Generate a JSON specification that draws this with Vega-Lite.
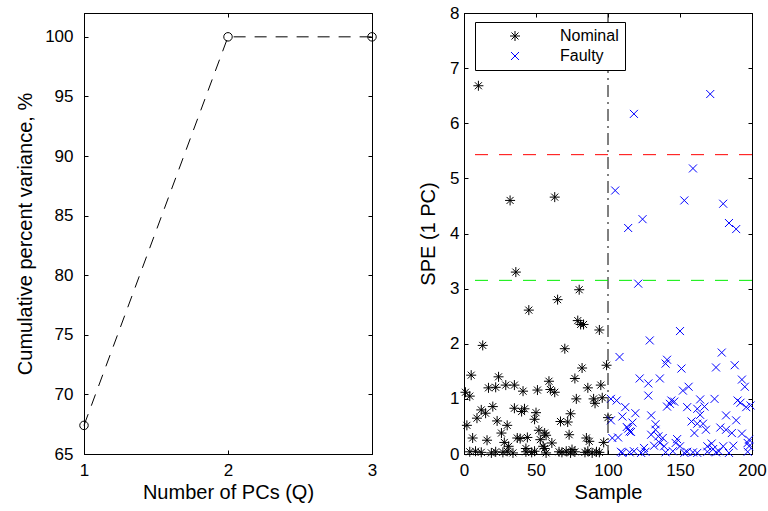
{
  "$schema": "https://vega.github.io/schema/vega-lite/v6.json",
  "padding": {"left": 15, "top": 3, "right": 2, "bottom": 0},
  "background": "white",
  "config": {
    "font": "Liberation Sans",
    "view": {"stroke": "black", "strokeWidth": 1},
    "axis": {
      "labelFont": "Liberation Sans", "titleFont": "Liberation Sans",
      "labelFontSize": 17, "titleFontSize": 20, "titleFontWeight": "normal",
      "labelColor": "black", "titleColor": "black", "tickColor": "black", "domainColor": "black",
      "tickSize": -4, "grid": false, "labelFlush": false, "labelOverlap": false
    }
  },
  "bounds": "flush",
  "spacing": 92,
  "datasets": {
    "pcs": [{"q": 1, "v": 67.4}, {"q": 2, "v": 100}, {"q": 3, "v": 100}],
    "spe": [
      {"sample": 10, "spe": 6.68, "group": "Nominal"}, {"sample": 32, "spe": 4.60, "group": "Nominal"}, {"sample": 63, "spe": 4.66, "group": "Nominal"},
      {"sample": 36, "spe": 3.30, "group": "Nominal"}, {"sample": 80, "spe": 2.98, "group": "Nominal"}, {"sample": 65, "spe": 2.80, "group": "Nominal"},
      {"sample": 45, "spe": 2.61, "group": "Nominal"}, {"sample": 79, "spe": 2.42, "group": "Nominal"}, {"sample": 81, "spe": 2.35, "group": "Nominal"},
      {"sample": 83, "spe": 2.35, "group": "Nominal"}, {"sample": 94, "spe": 2.25, "group": "Nominal"}, {"sample": 13, "spe": 1.97, "group": "Nominal"},
      {"sample": 70, "spe": 1.91, "group": "Nominal"}, {"sample": 99, "spe": 1.61, "group": "Nominal"}, {"sample": 82, "spe": 1.56, "group": "Nominal"},
      {"sample": 5, "spe": 1.43, "group": "Nominal"}, {"sample": 24, "spe": 1.40, "group": "Nominal"}, {"sample": 77, "spe": 1.37, "group": "Nominal"},
      {"sample": 59, "spe": 1.32, "group": "Nominal"}, {"sample": 17, "spe": 1.20, "group": "Nominal"}, {"sample": 22, "spe": 1.21, "group": "Nominal"},
      {"sample": 29, "spe": 1.25, "group": "Nominal"}, {"sample": 35, "spe": 1.25, "group": "Nominal"}, {"sample": 41, "spe": 1.14, "group": "Nominal"},
      {"sample": 51, "spe": 1.16, "group": "Nominal"}, {"sample": 60, "spe": 1.17, "group": "Nominal"}, {"sample": 63, "spe": 1.12, "group": "Nominal"},
      {"sample": 86, "spe": 1.20, "group": "Nominal"}, {"sample": 95, "spe": 1.25, "group": "Nominal"}, {"sample": 1, "spe": 1.12, "group": "Nominal"},
      {"sample": 4, "spe": 1.05, "group": "Nominal"}, {"sample": 78, "spe": 1.00, "group": "Nominal"}, {"sample": 90, "spe": 1.00, "group": "Nominal"},
      {"sample": 91, "spe": 0.92, "group": "Nominal"}, {"sample": 96, "spe": 1.02, "group": "Nominal"}, {"sample": 20, "spe": 0.86, "group": "Nominal"},
      {"sample": 12, "spe": 0.80, "group": "Nominal"}, {"sample": 15, "spe": 0.74, "group": "Nominal"}, {"sample": 9, "spe": 0.65, "group": "Nominal"},
      {"sample": 35, "spe": 0.83, "group": "Nominal"}, {"sample": 40, "spe": 0.77, "group": "Nominal"}, {"sample": 42, "spe": 0.82, "group": "Nominal"},
      {"sample": 50, "spe": 0.75, "group": "Nominal"}, {"sample": 49, "spe": 0.63, "group": "Nominal"}, {"sample": 74, "spe": 0.73, "group": "Nominal"},
      {"sample": 67, "spe": 0.59, "group": "Nominal"}, {"sample": 72, "spe": 0.58, "group": "Nominal"}, {"sample": 100, "spe": 0.66, "group": "Nominal"},
      {"sample": 2, "spe": 0.52, "group": "Nominal"}, {"sample": 23, "spe": 0.60, "group": "Nominal"}, {"sample": 30, "spe": 0.52, "group": "Nominal"},
      {"sample": 26, "spe": 0.38, "group": "Nominal"}, {"sample": 52, "spe": 0.43, "group": "Nominal"}, {"sample": 56, "spe": 0.38, "group": "Nominal"},
      {"sample": 57, "spe": 0.34, "group": "Nominal"}, {"sample": 6, "spe": 0.29, "group": "Nominal"}, {"sample": 16, "spe": 0.25, "group": "Nominal"},
      {"sample": 37, "spe": 0.29, "group": "Nominal"}, {"sample": 44, "spe": 0.30, "group": "Nominal"}, {"sample": 28, "spe": 0.21, "group": "Nominal"},
      {"sample": 31, "spe": 0.14, "group": "Nominal"}, {"sample": 53, "spe": 0.26, "group": "Nominal"}, {"sample": 55, "spe": 0.14, "group": "Nominal"},
      {"sample": 61, "spe": 0.20, "group": "Nominal"}, {"sample": 73, "spe": 0.35, "group": "Nominal"}, {"sample": 85, "spe": 0.29, "group": "Nominal"},
      {"sample": 87, "spe": 0.23, "group": "Nominal"}, {"sample": 97, "spe": 0.21, "group": "Nominal"}, {"sample": 39, "spe": 0.28, "group": "Nominal"},
      {"sample": 43, "spe": 0.10, "group": "Nominal"}, {"sample": 56, "spe": 0.10, "group": "Nominal"}, {"sample": 75, "spe": 0.08, "group": "Nominal"},
      {"sample": 4, "spe": 0.04, "group": "Nominal"}, {"sample": 8, "spe": 0.05, "group": "Nominal"}, {"sample": 12, "spe": 0.03, "group": "Nominal"},
      {"sample": 19, "spe": 0.02, "group": "Nominal"}, {"sample": 22, "spe": 0.04, "group": "Nominal"}, {"sample": 27, "spe": 0.03, "group": "Nominal"},
      {"sample": 30, "spe": 0.05, "group": "Nominal"}, {"sample": 34, "spe": 0.02, "group": "Nominal"}, {"sample": 43, "spe": 0.04, "group": "Nominal"},
      {"sample": 47, "spe": 0.03, "group": "Nominal"}, {"sample": 49, "spe": 0.05, "group": "Nominal"}, {"sample": 57, "spe": 0.02, "group": "Nominal"},
      {"sample": 66, "spe": 0.04, "group": "Nominal"}, {"sample": 68, "spe": 0.03, "group": "Nominal"}, {"sample": 71, "spe": 0.05, "group": "Nominal"},
      {"sample": 74, "spe": 0.02, "group": "Nominal"}, {"sample": 77, "spe": 0.04, "group": "Nominal"}, {"sample": 84, "spe": 0.03, "group": "Nominal"},
      {"sample": 86, "spe": 0.05, "group": "Nominal"}, {"sample": 89, "spe": 0.02, "group": "Nominal"}, {"sample": 92, "spe": 0.04, "group": "Nominal"},
      {"sample": 94, "spe": 0.03, "group": "Nominal"},
      {"sample": 105, "spe": 4.78, "group": "Faulty"}, {"sample": 118, "spe": 6.17, "group": "Faulty"}, {"sample": 171, "spe": 6.53, "group": "Faulty"},
      {"sample": 159, "spe": 5.18, "group": "Faulty"}, {"sample": 153, "spe": 4.60, "group": "Faulty"}, {"sample": 180, "spe": 4.54, "group": "Faulty"},
      {"sample": 114, "spe": 4.10, "group": "Faulty"}, {"sample": 124, "spe": 4.26, "group": "Faulty"}, {"sample": 184, "spe": 4.19, "group": "Faulty"},
      {"sample": 189, "spe": 4.08, "group": "Faulty"}, {"sample": 121, "spe": 3.09, "group": "Faulty"}, {"sample": 150, "spe": 2.23, "group": "Faulty"},
      {"sample": 129, "spe": 2.06, "group": "Faulty"}, {"sample": 179, "spe": 1.84, "group": "Faulty"}, {"sample": 108, "spe": 1.76, "group": "Faulty"},
      {"sample": 141, "spe": 1.71, "group": "Faulty"}, {"sample": 140, "spe": 1.64, "group": "Faulty"}, {"sample": 175, "spe": 1.57, "group": "Faulty"},
      {"sample": 188, "spe": 1.61, "group": "Faulty"}, {"sample": 151, "spe": 1.55, "group": "Faulty"}, {"sample": 122, "spe": 1.37, "group": "Faulty"},
      {"sample": 128, "spe": 1.28, "group": "Faulty"}, {"sample": 136, "spe": 1.37, "group": "Faulty"}, {"sample": 193, "spe": 1.35, "group": "Faulty"},
      {"sample": 195, "spe": 1.22, "group": "Faulty"}, {"sample": 156, "spe": 1.22, "group": "Faulty"}, {"sample": 152, "spe": 1.15, "group": "Faulty"},
      {"sample": 128, "spe": 1.06, "group": "Faulty"}, {"sample": 102, "spe": 1.00, "group": "Faulty"}, {"sample": 106, "spe": 0.97, "group": "Faulty"},
      {"sample": 144, "spe": 0.97, "group": "Faulty"}, {"sample": 146, "spe": 0.95, "group": "Faulty"}, {"sample": 143, "spe": 0.91, "group": "Faulty"},
      {"sample": 164, "spe": 0.99, "group": "Faulty"}, {"sample": 174, "spe": 1.00, "group": "Faulty"}, {"sample": 190, "spe": 0.97, "group": "Faulty"},
      {"sample": 192, "spe": 0.93, "group": "Faulty"}, {"sample": 112, "spe": 0.85, "group": "Faulty"}, {"sample": 141, "spe": 0.86, "group": "Faulty"},
      {"sample": 155, "spe": 0.85, "group": "Faulty"}, {"sample": 167, "spe": 0.86, "group": "Faulty"}, {"sample": 162, "spe": 0.82, "group": "Faulty"},
      {"sample": 196, "spe": 0.85, "group": "Faulty"}, {"sample": 199, "spe": 0.88, "group": "Faulty"}, {"sample": 119, "spe": 0.74, "group": "Faulty"},
      {"sample": 130, "spe": 0.70, "group": "Faulty"}, {"sample": 164, "spe": 0.71, "group": "Faulty"}, {"sample": 110, "spe": 0.68, "group": "Faulty"},
      {"sample": 182, "spe": 0.70, "group": "Faulty"}, {"sample": 102, "spe": 0.61, "group": "Faulty"}, {"sample": 158, "spe": 0.59, "group": "Faulty"},
      {"sample": 189, "spe": 0.61, "group": "Faulty"}, {"sample": 117, "spe": 0.57, "group": "Faulty"}, {"sample": 133, "spe": 0.54, "group": "Faulty"},
      {"sample": 162, "spe": 0.55, "group": "Faulty"}, {"sample": 166, "spe": 0.55, "group": "Faulty"}, {"sample": 113, "spe": 0.49, "group": "Faulty"},
      {"sample": 178, "spe": 0.48, "group": "Faulty"}, {"sample": 182, "spe": 0.44, "group": "Faulty"}, {"sample": 186, "spe": 0.38, "group": "Faulty"},
      {"sample": 115, "spe": 0.41, "group": "Faulty"}, {"sample": 133, "spe": 0.44, "group": "Faulty"}, {"sample": 168, "spe": 0.44, "group": "Faulty"},
      {"sample": 160, "spe": 0.38, "group": "Faulty"}, {"sample": 193, "spe": 0.37, "group": "Faulty"}, {"sample": 130, "spe": 0.35, "group": "Faulty"},
      {"sample": 135, "spe": 0.32, "group": "Faulty"}, {"sample": 103, "spe": 0.29, "group": "Faulty"}, {"sample": 107, "spe": 0.30, "group": "Faulty"},
      {"sample": 138, "spe": 0.29, "group": "Faulty"}, {"sample": 148, "spe": 0.27, "group": "Faulty"}, {"sample": 198, "spe": 0.26, "group": "Faulty"},
      {"sample": 132, "spe": 0.15, "group": "Faulty"}, {"sample": 136, "spe": 0.20, "group": "Faulty"}, {"sample": 139, "spe": 0.14, "group": "Faulty"},
      {"sample": 147, "spe": 0.20, "group": "Faulty"}, {"sample": 150, "spe": 0.14, "group": "Faulty"}, {"sample": 172, "spe": 0.19, "group": "Faulty"},
      {"sample": 169, "spe": 0.14, "group": "Faulty"}, {"sample": 173, "spe": 0.09, "group": "Faulty"}, {"sample": 180, "spe": 0.14, "group": "Faulty"},
      {"sample": 187, "spe": 0.15, "group": "Faulty"}, {"sample": 197, "spe": 0.20, "group": "Faulty"}, {"sample": 198, "spe": 0.14, "group": "Faulty"},
      {"sample": 125, "spe": 0.11, "group": "Faulty"}, {"sample": 114, "spe": 0.46, "group": "Faulty"}, {"sample": 116, "spe": 0.40, "group": "Faulty"},
      {"sample": 109, "spe": 0.04, "group": "Faulty"}, {"sample": 110, "spe": 0.02, "group": "Faulty"}, {"sample": 115, "spe": 0.03, "group": "Faulty"},
      {"sample": 118, "spe": 0.05, "group": "Faulty"}, {"sample": 123, "spe": 0.02, "group": "Faulty"}, {"sample": 126, "spe": 0.04, "group": "Faulty"},
      {"sample": 140, "spe": 0.03, "group": "Faulty"}, {"sample": 145, "spe": 0.05, "group": "Faulty"}, {"sample": 153, "spe": 0.02, "group": "Faulty"},
      {"sample": 155, "spe": 0.04, "group": "Faulty"}, {"sample": 159, "spe": 0.03, "group": "Faulty"}, {"sample": 162, "spe": 0.02, "group": "Faulty"},
      {"sample": 169, "spe": 0.04, "group": "Faulty"}, {"sample": 175, "spe": 0.03, "group": "Faulty"}, {"sample": 177, "spe": 0.05, "group": "Faulty"},
      {"sample": 184, "spe": 0.02, "group": "Faulty"}, {"sample": 197, "spe": 0.04, "group": "Faulty"}
    ]
  },
  "hconcat": [
    {
      "width": 288, "height": 441,
      "data": {"name": "pcs"},
      "resolve": {"axis": {"x": "independent", "y": "independent"}},
      "layer": [
        {
          "mark": {"type": "line", "color": "black", "strokeWidth": 1, "strokeDash": [12, 9]},
          "encoding": {
            "x": {"field": "q", "type": "ordinal", "scale": {"type": "point", "padding": 0},
                  "axis": {"orient": "bottom", "labelAngle": 0, "title": "Number of PCs (Q)", "labelPadding": 12, "titlePadding": 4}},
            "y": {"field": "v", "type": "quantitative", "scale": {"domain": [65, 102], "nice": false, "zero": false},
                  "axis": {"orient": "left", "values": [65, 70, 75, 80, 85, 90, 95, 100], "tickCount": 8, "title": "Cumulative percent variance, %", "labelPadding": 15, "titlePadding": 9}}
          }
        },
        {
          "mark": {"type": "point", "shape": "circle", "filled": false, "color": "black", "strokeWidth": 1, "size": 72, "opacity": 1},
          "encoding": {
            "x": {"field": "q", "type": "ordinal", "axis": {"orient": "top", "labels": false, "title": null}},
            "y": {"field": "v", "type": "quantitative", "axis": {"orient": "right", "values": [65, 70, 75, 80, 85, 90, 95, 100], "tickCount": 8, "labels": false, "title": null}}
          }
        }
      ]
    },
    {
      "width": 288, "height": 441,
      "resolve": {"axis": {"x": "independent", "y": "independent"}},
      "layer": [
        {
          "data": {"name": "spe"},
          "mark": {"type": "point", "filled": false, "strokeWidth": 1, "size": 100, "opacity": 1},
          "encoding": {
            "x": {"field": "sample", "type": "quantitative", "scale": {"domain": [0, 200], "nice": false},
                  "axis": {"orient": "bottom", "values": [0, 50, 100, 150, 200], "tickCount": 5, "title": "Sample", "labelPadding": 12, "titlePadding": 4}},
            "y": {"field": "spe", "type": "quantitative", "scale": {"domain": [0, 8], "nice": false},
                  "axis": {"orient": "left", "values": [0, 1, 2, 3, 4, 5, 6, 7, 8], "tickCount": 9, "title": "SPE (1 PC)", "labelPadding": 9, "titlePadding": 11}},
            "color": {"field": "group", "type": "nominal",
                      "scale": {"domain": ["Nominal", "Faulty"], "range": ["#000000", "#0000ff"]},
                      "legend": {"title": null, "orient": "none", "legendX": 391, "legendY": 9, "strokeColor": "black", "fillColor": "white",
                                 "padding": 6, "labelFontSize": 16, "labelFont": "Liberation Sans", "labelColor": "black", "symbolSize": 100, "symbolStrokeWidth": 1,
                                 "symbolOffset": 26, "labelOffset": 37, "rowPadding": 4, "cornerRadius": 0}},
            "shape": {"field": "group", "type": "nominal",
                      "scale": {"domain": ["Nominal", "Faulty"],
                                "range": ["M0,-1L0,1M-1,0L1,0M-0.7,-0.7L0.7,0.7M-0.7,0.7L0.7,-0.7", "M-0.8,-0.8L0.8,0.8M-0.8,0.8L0.8,-0.8"]}}
          }
        },
        {
          "data": {"values": [{"sample": 100}]},
          "mark": {"type": "rule", "color": "black", "strokeWidth": 1, "strokeDash": [12, 5, 2, 5]},
          "encoding": {
            "x": {"field": "sample", "type": "quantitative", "axis": {"orient": "top", "values": [0, 50, 100, 150, 200], "tickCount": 5, "labels": false, "title": null}}
          }
        },
        {
          "data": {"values": [{"spe": 5.43}]},
          "mark": {"type": "rule", "color": "#ff0000", "strokeWidth": 1, "opacity": 1, "strokeDash": [13, 11]},
          "encoding": {
            "y": {"field": "spe", "type": "quantitative", "axis": {"orient": "right", "values": [0, 1, 2, 3, 4, 5, 6, 7, 8], "tickCount": 9, "labels": false, "title": null}}
          }
        },
        {
          "data": {"values": [{"spe": 3.15}]},
          "mark": {"type": "rule", "color": "#00ee00", "strokeWidth": 1, "opacity": 1, "strokeDash": [13, 11]},
          "encoding": {
            "y": {"field": "spe", "type": "quantitative", "axis": null}
          }
        }
      ]
    }
  ]
}
